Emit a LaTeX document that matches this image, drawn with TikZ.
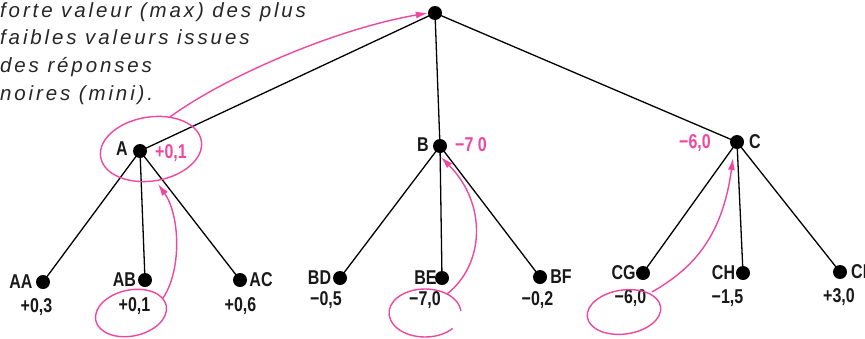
\documentclass[tikz,border=0pt]{standalone}
\usepackage{fontspec}
\setmainfont{Liberation Sans}
\newfontfamily\lblfont[FakeStretch=0.8]{Liberation Sans}
\newfontfamily\notefont[LetterSpace=14]{Liberation Sans}
\usetikzlibrary{arrows.meta}
\definecolor{pinkline}{RGB}{240,70,160}
\tikzset{
  tree/.style={line width=1.3pt, draw=black},
  dot/.style={circle, fill=black, inner sep=0pt, minimum size=14pt},
  lbl/.style={font=\lblfont\bfseries\fontsize{20}{20}\selectfont, inner sep=0pt, text=black!90},
  pinklbl/.style={lbl, text=pinkline},
  note/.style={font=\notefont\itshape\fontsize{20.5}{21}\selectfont, inner sep=0pt, anchor=base west, text=black!85},
  hl/.style={draw=pinkline, line width=1.4pt},
  hlarrow/.style={hl, -{Latex[length=12pt,width=7pt]}}
}
\begin{document}
\begin{tikzpicture}[x=1pt,y=-1pt]
\useasboundingbox (0,0) rectangle (865,338);
% note
\node[note] (n1) at (0,17) {forte valeur (max) des plus};
\node[note] (n2) at (0,44) {faibles valeurs issues};
\node[note] (n3) at (0,72) {des réponses};
\node[note] (n4) at (0,100) {noires (mini).};
% dots
\node[dot] (R) at (435,13) {};
\node[dot] (A) at (140,151) {};
\node[dot] (B) at (440,146) {};
\node[dot] (C) at (737,142) {};
\node[dot] (AA) at (43,282) {};
\node[dot] (AB) at (145,280) {};
\node[dot] (AC) at (240,280) {};
\node[dot] (BD) at (340,278) {};
\node[dot] (BE) at (442,278) {};
\node[dot] (BF) at (540,277) {};
\node[dot] (CG) at (643,273) {};
\node[dot] (CH) at (743,273) {};
\node[dot] (CI) at (840,272) {};
% edges
\draw[tree] (R.center) -- (A.center);
\draw[tree] (R.center) -- (B.center);
\draw[tree] (R.center) -- (C.center);
\draw[tree] (A.center) -- (AA.center);
\draw[tree] (A.center) -- (AB.center);
\draw[tree] (A.center) -- (AC.center);
\draw[tree] (B.center) -- (BD.center);
\draw[tree] (B.center) -- (BE.center);
\draw[tree] (B.center) -- (BF.center);
\draw[tree] (C.center) -- (CG.center);
\draw[tree] (C.center) -- (CH.center);
\draw[tree] (C.center) -- (CI.center);
% inner labels
\node[lbl] (Al) at (122,149) {A};
\node[lbl] (Bl) at (423,145) {B};
\node[lbl] (Cl) at (755,142) {C};
\node[pinklbl] (Av) at (171,153) {+0,1};
\node[pinklbl] (Bv) at (471,145) {−7 0};
\node[pinklbl] (Cv) at (695,143) {−6,0};
% leaf labels
\node[lbl] (AAl) at (21,282) {AA};
\node[lbl] (ABl) at (124.5,280) {AB};
\node[lbl] (ACl) at (261,280) {AC};
\node[lbl] (BDl) at (319.5,278) {BD};
\node[lbl] (BEl) at (425.5,278) {BE};
\node[lbl] (BFl) at (561,277) {BF};
\node[lbl] (CGl) at (623.5,273) {CG};
\node[lbl] (CHl) at (723.5,273) {CH};
\node[lbl, anchor=west] (CIl) at (851,272) {CI};
\node[lbl] (AAv) at (36.5,307) {+0,3};
\node[lbl] (ABv) at (134.5,306) {+0,1};
\node[lbl] (ACv) at (240.5,306) {+0,6};
\node[lbl] (BDv) at (326,300) {−0,5};
\node[lbl] (BEv) at (425,300) {−7,0};
\node[lbl] (BFv) at (537.5,300) {−0,2};
\node[lbl] (CGv) at (630.5,298) {−6,0};
\node[lbl] (CHv) at (727.5,298) {−1,5};
\node[lbl] (CIv) at (839,297) {+3,0};
% pink highlights
\draw[hl] (151,149) ellipse [x radius=51, y radius=32, rotate=9];
\coordinate (s1) at (170,117);
\draw[hlarrow] (s1) .. controls (220,80) and (330,30) .. (R.west);
\draw[hl] (131,313) ellipse [x radius=36, y radius=23, rotate=12];
\coordinate (s2) at (163,298);
\coordinate (t2) at (158,184);
\draw[hlarrow] (s2) .. controls (182,270) and (180,215) .. (t2);
\draw[hl] (460.9,310.9) arc[start angle=-5, end angle=-320, x radius=36, y radius=24];
\coordinate (s3) at (447,294);
\coordinate (t3) at (441,157);
\draw[hlarrow] (s3) .. controls (484,265) and (488,205) .. (t3);
\draw[hl] (624,312) ellipse [x radius=37, y radius=22, rotate=8];
\coordinate (s4) at (652,292);
\coordinate (t4) at (733,158);
\draw[hlarrow] (s4) .. controls (690,270) and (722,240) .. (t4);
\end{tikzpicture}
\end{document}
